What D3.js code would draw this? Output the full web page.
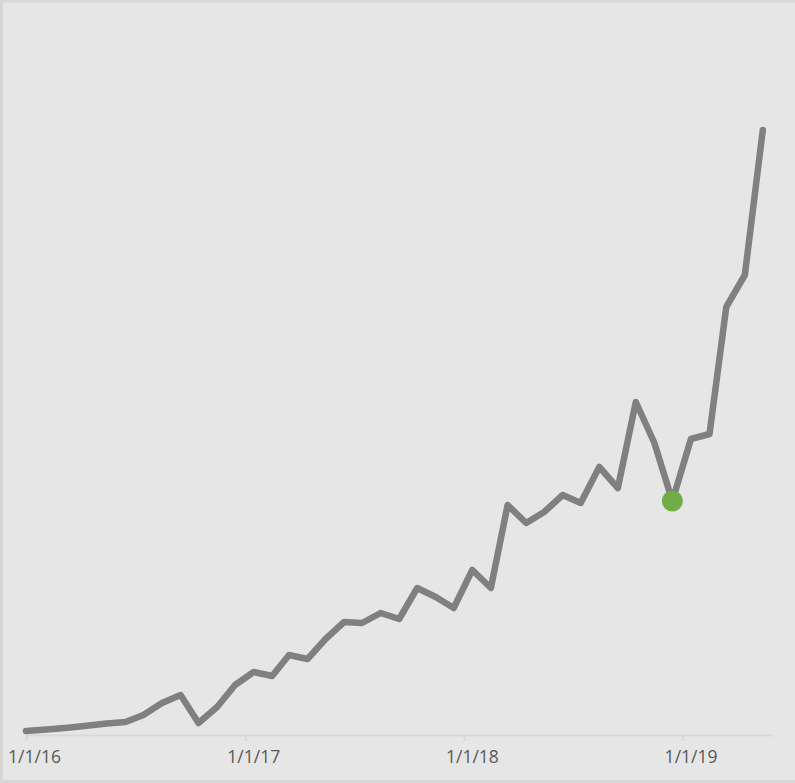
<!DOCTYPE html>
<html>
<head>
<meta charset="utf-8">
<script src="https://cdn.jsdelivr.net/npm/d3@7"></script>
<style>
  body { margin: 0; background: #e6e6e6; }
  svg { display: block; }
</style>
</head>
<body>
<script>
// data (monthly values, first point on 1/1/16, rest mid-month)
var dates = ["2016-01-01", "2016-02-15", "2016-03-15", "2016-04-15", "2016-05-15", "2016-06-15",
  "2016-07-15", "2016-08-15", "2016-09-15", "2016-10-15", "2016-11-15", "2016-12-15",
  "2017-01-15", "2017-02-15", "2017-03-15", "2017-04-15", "2017-05-15", "2017-06-15",
  "2017-07-15", "2017-08-15", "2017-09-15", "2017-10-15", "2017-11-15", "2017-12-15",
  "2018-01-15", "2018-02-15", "2018-03-15", "2018-04-15", "2018-05-15", "2018-06-15",
  "2018-07-15", "2018-08-15", "2018-09-15", "2018-10-15", "2018-11-15", "2018-12-15",
  "2019-01-15", "2019-02-15", "2019-03-15", "2019-04-15", "2019-05-15"];
var values = [4, 6, 7.5, 9.5, 11.5, 13,
  20, 32, 40, 12, 28, 50,
  63, 59, 80, 76, 96, 113,
  112, 122, 116, 147, 138, 127,
  165, 147, 230, 212, 223, 240,
  232, 268, 247, 333, 292, 234,
  296, 301, 428, 460, 605];
var highlightDate = "2018-12-15";
var tickDates = ["2016-01-01", "2017-01-01", "2018-01-01", "2019-01-01"];

var width = 795;
var height = 783;

var parse = d3.timeParse("%Y-%m-%d");
var data = dates.map(function(d, i) { return {date: parse(d), value: values[i]}; });

var svg = d3.select("body").append("svg")
    .attr("width", width)
    .attr("height", height);

// background + frame
svg.append("rect")
    .attr("x", 0).attr("y", 0)
    .attr("width", width).attr("height", height)
    .attr("fill", "#e6e6e6");
svg.append("path")
    .attr("d", "M" + (width + 5) + ",1V1H1.5V781.5H" + (width + 5))
    .attr("fill", "none")
    .attr("stroke", "#d6d6d6")
    .attr("stroke-width", 3);

var x = d3.scaleTime()
    .domain([parse("2016-01-01"), parse("2019-06-01")])
    .range([26, 773]);

var y = d3.scaleLinear()
    .domain([0, 610])
    .range([735, 125]);

// x axis
var axis = svg.append("g")
    .attr("transform", "translate(0,735)")
    .call(d3.axisBottom(x)
      .tickValues(tickDates.map(parse))
      .tickFormat(d3.timeFormat("%-m/%-d/%y"))
      .tickSize(6)
      .tickSizeOuter(0));

axis.select(".domain").attr("stroke", "#d9d9d9").attr("stroke-width", 2);
axis.selectAll(".tick line").attr("stroke", "#d9d9d9").attr("stroke-width", 2);
axis.selectAll(".tick text")
    .attr("fill", "#595959")
    .attr("font-family", "'Open Sans', sans-serif")
    .attr("font-size", "17.5px")
    .attr("dx", 8)
    .attr("y", 16);

// line
var line = d3.line()
    .x(function(d) { return x(d.date); })
    .y(function(d) { return y(d.value); });

svg.append("path")
    .datum(data)
    .attr("d", line)
    .attr("fill", "none")
    .attr("stroke", "#808080")
    .attr("stroke-width", 6.5)
    .attr("stroke-linejoin", "round")
    .attr("stroke-linecap", "round");

// highlighted point
var hl = data.filter(function(d) { return +d.date === +parse(highlightDate); });
svg.selectAll("circle.hl")
    .data(hl)
    .enter()
    .append("circle")
    .attr("class", "hl")
    .attr("cx", function(d) { return x(d.date); })
    .attr("cy", function(d) { return y(d.value); })
    .attr("r", 10.5)
    .attr("fill", "#70ad47");
</script>
</body>
</html>
